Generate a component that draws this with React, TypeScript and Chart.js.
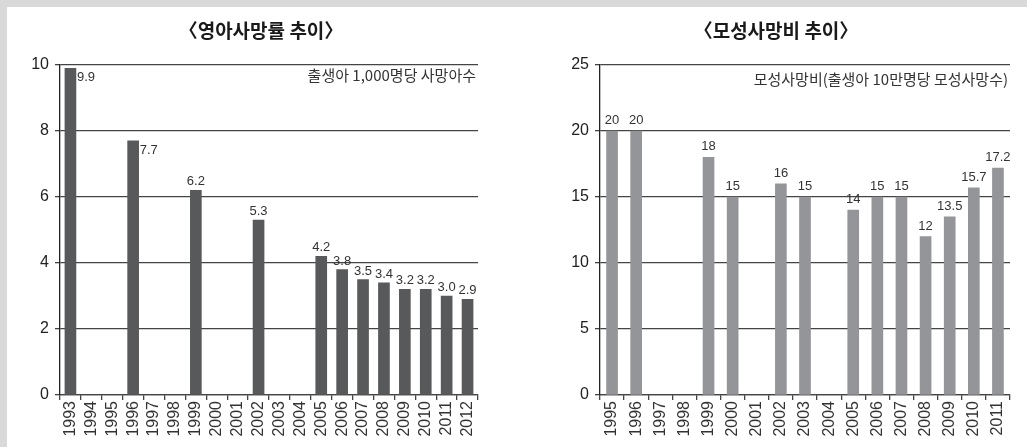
import React, { useEffect, useRef } from "react";
import { Chart, registerables } from "chart.js";

Chart.register(...registerables);

// ---- Data ----
const infantTitle = "〈영아사망률 추이〉";
const infantNote = "출생아 1,000명당 사망아수";
const infantYears = [
  "1993", "1994", "1995", "1996", "1997", "1998", "1999", "2000", "2001", "2002",
  "2003", "2004", "2005", "2006", "2007", "2008", "2009", "2010", "2011", "2012",
];
const infantRates: (number | null)[] = [
  9.9, null, null, 7.7, null, null, 6.2, null, null, 5.3,
  null, null, 4.2, 3.8, 3.5, 3.4, 3.2, 3.2, 3.0, 2.9,
];
const infantAxis = { min: 0, max: 10, step: 2 };
const infantSideLabels = ["1993", "1996"];

const maternalTitle = "〈모성사망비 추이〉";
const maternalNote = "모성사망비(출생아 10만명당 모성사망수)";
const maternalYears = [
  "1995", "1996", "1997", "1998", "1999", "2000", "2001", "2002", "2003",
  "2004", "2005", "2006", "2007", "2008", "2009", "2010", "2011",
];
const maternalRatios: (number | null)[] = [
  20, 20, null, null, 18, 15, null, 16, 15,
  null, 14, 15, 15, 12, 13.5, 15.7, 17.2,
];
const maternalAxis = { min: 0, max: 25, step: 5 };

// ---- Styles ----
const NUM_FONT = '"Liberation Sans", Arial, "Noto Sans CJK KR", sans-serif';
const KR_FONT = '"Noto Sans CJK KR", "Noto Sans", sans-serif';
const GRID = "#444444";

type PanelCfg = {
  title: string;
  note: string;
  labels: string[];
  values: (number | null)[];
  axis: { min: number; max: number; step: number };
  color: string;
  format: (v: number) => string;
  sideLabels: string[];
  padLeft: number;
  padRight: number;
  yWidth: number;
  titleX: number;
  noteDy: number;
  labelGap: number;
};

function makeLabelPlugin(cfg: PanelCfg) {
  return {
    id: "valueLabels",
    afterDatasetsDraw(chart: any) {
      const { ctx, chartArea } = chart;
      const meta = chart.getDatasetMeta(0);
      ctx.save();
      ctx.fillStyle = "#333333";
      ctx.font = `13px ${NUM_FONT}`;
      meta.data.forEach((bar: any, i: number) => {
        const v = cfg.values[i];
        if (v == null) return;
        const text = cfg.format(v);
        if (cfg.sideLabels.includes(cfg.labels[i])) {
          ctx.textAlign = "left";
          ctx.textBaseline = "top";
          ctx.fillText(text, bar.x + bar.width / 2 + 1, bar.y + 3);
        } else {
          ctx.textAlign = "center";
          ctx.textBaseline = "alphabetic";
          ctx.fillText(text, bar.x, bar.y - cfg.labelGap);
        }
      });
      // unit note
      ctx.font = `15px ${KR_FONT}`;
      ctx.fillStyle = "#333333";
      ctx.textAlign = "right";
      ctx.textBaseline = "middle";
      ctx.fillText(cfg.note, chartArea.right - 2, chartArea.top + cfg.noteDy);
      // title
      ctx.font = `bold 19px ${KR_FONT}`;
      ctx.fillStyle = "#1a1a1a";
      ctx.textAlign = "center";
      ctx.textBaseline = "middle";
      ctx.fillText(cfg.title, cfg.titleX, 23);
      ctx.restore();
    },
  };
}

function makeConfig(cfg: PanelCfg): any {
  return {
    type: "bar",
    data: {
      labels: cfg.labels,
      datasets: [
        {
          data: cfg.values,
          backgroundColor: cfg.color,
          borderWidth: 0,
          barThickness: 11,
        },
      ],
    },
    plugins: [makeLabelPlugin(cfg)],
    options: {
      responsive: false,
      animation: false,
      events: [],
      layout: { padding: { left: cfg.padLeft, right: cfg.padRight, top: 57, bottom: 0 } },
      plugins: {
        legend: { display: false },
        tooltip: { enabled: false },
        title: { display: false },
      },
      scales: {
        x: {
          offset: true,
          afterFit: (s: any) => {
            s.height = 50;
          },
          grid: {
            display: true,
            offset: true,
            drawOnChartArea: false,
            drawTicks: true,
            tickLength: 5,
            color: GRID,
            lineWidth: 1.3,
          },
          border: { display: true, color: GRID, width: 1.3 },
          ticks: {
            autoSkip: false,
            maxRotation: 90,
            minRotation: 90,
            padding: 1,
            color: "#333333",
            font: { family: NUM_FONT, size: 16 },
          },
        },
        y: {
          min: cfg.axis.min,
          max: cfg.axis.max,
          afterFit: (s: any) => {
            s.width = cfg.yWidth;
          },
          grid: {
            color: GRID,
            lineWidth: 1.3,
            drawTicks: true,
            tickLength: 5,
          },
          border: { display: true, color: "#222222", width: 1.3 },
          ticks: {
            stepSize: cfg.axis.step,
            padding: 6,
            color: "#222222",
            font: { family: NUM_FONT, size: 16 },
          },
        },
      },
    },
  };
}

const infantCfg: PanelCfg = {
  title: infantTitle,
  note: infantNote,
  labels: infantYears,
  values: infantRates,
  axis: infantAxis,
  color: "#58595b",
  format: (v) => v.toFixed(1),
  sideLabels: infantSideLabels,
  padLeft: 0,
  padRight: 30,
  yWidth: 52,
  titleX: 253,
  noteDy: 10,
  labelGap: 5,
};

const maternalCfg: PanelCfg = {
  title: maternalTitle,
  note: maternalNote,
  labels: maternalYears,
  values: maternalRatios,
  axis: maternalAxis,
  color: "#939598",
  format: (v) => String(v),
  sideLabels: [],
  padLeft: 17,
  padRight: 17,
  yWidth: 58,
  titleX: 251,
  noteDy: 14,
  labelGap: 7,
};

function BarPanel({ cfg, left, width }: { cfg: PanelCfg; left: number; width: number }) {
  const ref = useRef<HTMLCanvasElement | null>(null);
  useEffect(() => {
    if (!ref.current) return;
    const chart = new Chart(ref.current, makeConfig(cfg));
    return () => chart.destroy();
  }, [cfg]);
  return (
    <canvas
      ref={ref}
      width={width}
      height={437}
      style={{ position: "absolute", left, top: 8, width, height: 437 }}
    />
  );
}

export default function App() {
  return (
    <div
      style={{
        position: "absolute",
        left: 0,
        top: 0,
        width: 1027,
        height: 447,
        background: "#d9d9d9",
        overflow: "hidden",
      }}
    >
      <div
        style={{
          position: "absolute",
          left: 7,
          top: 7,
          width: 1020,
          height: 440,
          background: "#ffffff",
        }}
      />
      <BarPanel cfg={infantCfg} left={8} width={500} />
      <BarPanel cfg={maternalCfg} left={525} width={502} />
    </div>
  );
}
